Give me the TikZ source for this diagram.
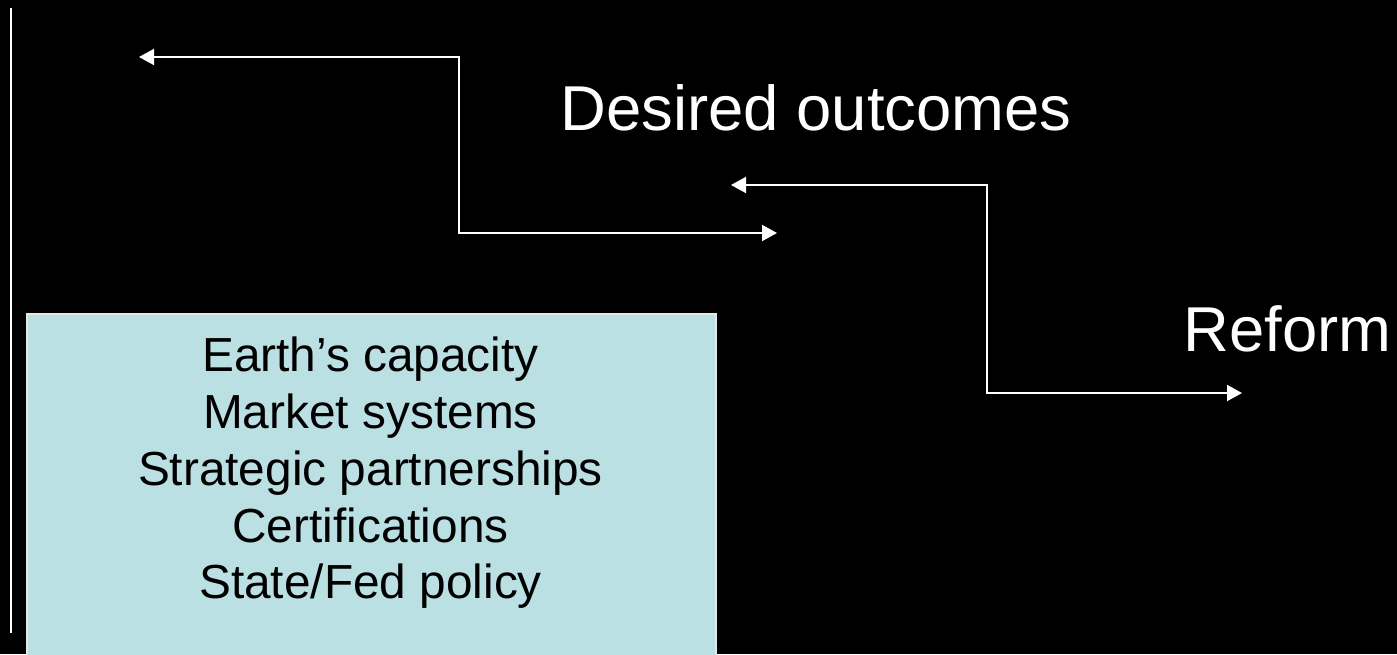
\documentclass[tikz,border=0pt]{standalone}
\usepackage{fontspec}
\setmainfont{Liberation Sans}
\usetikzlibrary{arrows.meta}
\definecolor{boxfill}{HTML}{BBE0E3}
\definecolor{boxline}{HTML}{E6E6E6}
\tikzset{
  conn/.style={draw=white, line width=1pt, {Triangle[length=7.5pt,width=8pt]}-{Triangle[length=7.5pt,width=8pt]}},
  bigtext/.style={text=white, font=\fontsize{31.7}{38}\selectfont, inner sep=0pt, anchor=base},
  boxtext/.style={text=black, font=\fontsize{23.9}{28}\selectfont, inner sep=0pt, anchor=base},
}
\begin{document}
\begin{tikzpicture}[x=0.5pt,y=-0.5pt]
\fill[black] (0,0) rectangle (1397,654);
\useasboundingbox (0,0) rectangle (1397,654);
% left vertical rule
\coordinate (v1) at (10.5,8);
\coordinate (v2) at (10.5,633);
\draw[white, line width=1pt] (v1) -- (v2);
% box
\begin{scope}
\clip (0,0) rectangle (1397,654);
\node[draw=boxline, line width=0.75pt, fill=boxfill, inner sep=0pt, anchor=north west,
      minimum width=344.5pt, minimum height=200pt] (box) at (26,313) {};
\end{scope}
\node[boxtext] (l1) at (370.5,371.5) {Earth’s capacity};
\node[boxtext] (l2) at (370.5,428) {Market systems};
\node[boxtext] (l3) at (370.5,485) {Strategic partnerships};
\node[boxtext] (l4) at (370.5,542) {Certifications};
\node[boxtext] (l5) at (370.5,598.5) {State/Fed policy};
% labels
\node[bigtext] (desired) at (816,130) {Desired outcomes};
\node[bigtext, anchor=base west] (reform) at (1183,351) {Reform};
% connectors
\coordinate (tA) at (139,57);
\coordinate (cA1) at (459,57);
\coordinate (cA2) at (459,233);
\coordinate (tB) at (777,233);
\draw[conn] (tA) -- (cA1) -- (cA2) -- (tB);
\coordinate (tC) at (731,185);
\coordinate (cB1) at (987,185);
\coordinate (cB2) at (987,393);
\coordinate (tD) at (1242,393);
\draw[conn] (tC) -- (cB1) -- (cB2) -- (tD);
\end{tikzpicture}
\end{document}
